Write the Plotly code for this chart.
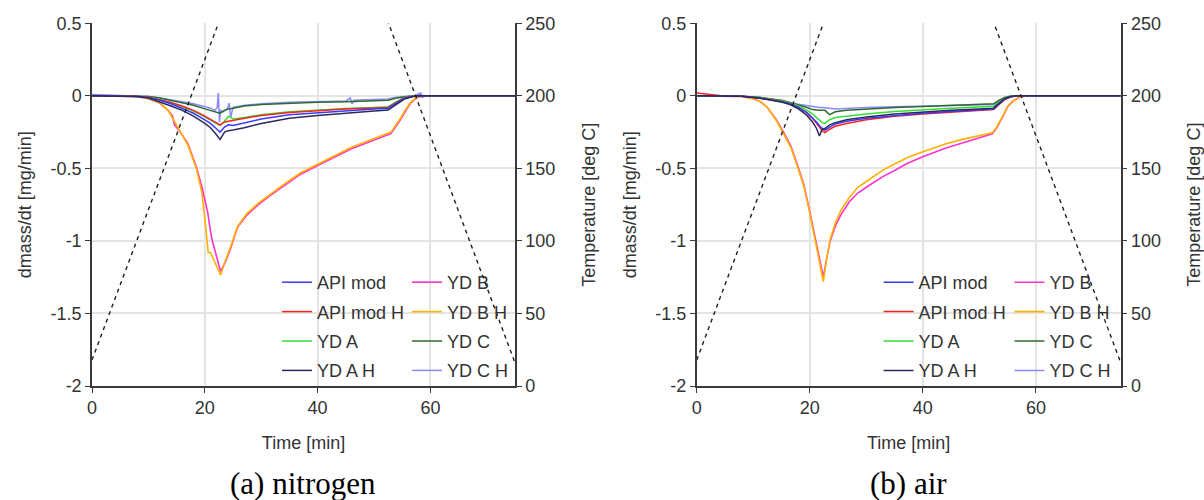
import plotly.graph_objects as go

# ---------------- data ----------------
series_names = ["API mod", "API mod H", "YD A", "YD A H", "YD B", "YD B H", "YD C", "YD C H"]
series_colors = {
    "API mod": "#3a3aff",
    "API mod H": "#ff2020",
    "YD A": "#33dd33",
    "YD A H": "#2a2a5e",
    "YD B": "#ff33cc",
    "YD B H": "#ffb000",
    "YD C": "#2e6b2e",
    "YD C H": "#8a8aff",
}

# furnace temperature programme (deg C) – same for both atmospheres
temp_time = [0, 22.9, 52.1, 75]
temp_value = [18, 255, 255, 16]

# ---- (a) nitrogen ----
t_small_a = [0, 4, 8, 10, 12, 14, 16, 18, 20, 21, 22, 22.7, 23.5, 24.2, 25,
             27, 30, 35, 40, 45, 50, 52.5, 54, 55.5, 57, 58, 60, 65, 70, 75]
api_mod_a = [0, 0, -0.005, -0.012, -0.03, -0.055, -0.085, -0.12, -0.165, -0.19,
             -0.225, -0.25, -0.215, -0.2, -0.205, -0.185, -0.16, -0.13, -0.115, -0.1,
             -0.09, -0.085, -0.05, -0.015, -0.003, 0, 0, 0, 0, 0]
api_mod_h_a = [0, 0, -0.003, -0.01, -0.025, -0.045, -0.07, -0.1, -0.14, -0.16,
               -0.185, -0.2, -0.18, -0.175, -0.17, -0.155, -0.135, -0.115, -0.1, -0.09,
               -0.083, -0.08, -0.045, -0.012, -0.002, 0, 0, 0, 0, 0]
yd_a_a = [0, 0, -0.003, -0.01, -0.025, -0.048, -0.075, -0.105, -0.145, -0.165,
          -0.19, -0.205, -0.175, -0.14, -0.16, -0.15, -0.13, -0.11, -0.097, -0.088,
          -0.08, -0.075, -0.04, -0.01, 0, 0, 0, 0, 0, 0]
yd_a_h_a = [0, 0, -0.005, -0.015, -0.04, -0.07, -0.1, -0.14, -0.19, -0.22,
            -0.265, -0.3, -0.25, -0.24, -0.235, -0.22, -0.19, -0.155, -0.135, -0.118,
            -0.105, -0.098, -0.06, -0.02, -0.005, 0, 0, 0, 0, 0]
yd_c_a = [0, 0, 0, -0.005, -0.015, -0.03, -0.045, -0.065, -0.09, -0.1,
          -0.11, -0.12, -0.1, -0.09, -0.085, -0.07, -0.06, -0.05, -0.045, -0.04,
          -0.035, -0.03, -0.015, -0.005, 0, 0, 0, 0, 0, 0]

t_yd_c_h_a = [0, 5, 8, 10, 12, 14, 16, 18, 20, 21, 21.8, 22.2, 22.4, 22.6, 22.8,
              23.2, 24, 24.3, 24.6, 25, 27, 30, 35, 40, 45, 45.8, 46.1, 46.4, 47, 50,
              52.5, 54, 55.5, 57, 58.3, 58.6, 59, 60, 65, 70, 75]
yd_c_h_a = [0.01, 0.005, 0, -0.005, -0.015, -0.025, -0.04, -0.055, -0.075, -0.085,
            -0.1, -0.08, 0.02, -0.18, -0.1, -0.11, -0.09, -0.05, -0.15, -0.08,
            -0.065, -0.055, -0.045, -0.04, -0.035, -0.015, -0.055, -0.03, -0.03, -0.025,
            -0.022, -0.01, -0.005, 0, 0.02, -0.01, 0, 0, 0, 0, 0]

t_yd_b_a = [0, 5, 8, 10, 12, 13.5, 14.3, 14.6, 15.5, 17, 18.5, 19.5, 20.5, 21.2, 22,
            22.8, 23.6, 24.5, 25.6, 25.9, 27.5, 29.5, 31.5, 34, 37, 40, 43, 46, 49, 51.5,
            53, 53.8, 54.6, 55.5, 56.5, 57.5, 58.5, 60, 65, 70, 75]
yd_b_a = [0, 0, -0.005, -0.02, -0.05, -0.1, -0.14, -0.2, -0.24, -0.33,
          -0.49, -0.63, -0.8, -0.98, -1.1, -1.21, -1.15, -1.06, -0.93, -0.9,
          -0.82, -0.75, -0.69, -0.62, -0.54, -0.48, -0.42, -0.365, -0.32, -0.28,
          -0.26, -0.215, -0.17, -0.11, -0.05, -0.015, -0.003, 0, 0, 0, 0]
t_yd_b_h_a = [0, 5, 8, 10, 12, 13.5, 14.5, 15.5, 17, 18.5, 19.5, 20.2, 20.6, 21.0, 22.0,
              22.8, 23.6, 24.5, 25.8, 27.5, 29.5, 31.5, 34, 37, 40, 43, 46, 49, 51.5, 53,
              53.8, 54.6, 55.5, 56.5, 57.5, 58.5, 60, 65, 70, 75]
yd_b_h_a = [0, 0, -0.005, -0.02, -0.05, -0.1, -0.17, -0.23, -0.34, -0.5,
            -0.67, -0.92, -1.08, -1.08, -1.17, -1.235, -1.14, -1.05, -0.9, -0.81,
            -0.74, -0.68, -0.61, -0.53, -0.47, -0.41, -0.355, -0.31, -0.275, -0.25,
            -0.205, -0.16, -0.1, -0.045, -0.012, -0.002, 0, 0, 0, 0]

# ---- (b) air ----
t_small_b = [0, 4, 8, 11, 13, 15, 16.5, 18, 19.5, 20.5, 21.2, 21.7, 22.2, 22.7, 23.5,
             24.5, 26.5, 30, 35, 40, 45, 50, 52.5, 53.5, 54.5, 55.5, 56.5, 58, 60, 65, 70, 75]
api_mod_b = [0, 0, -0.003, -0.015, -0.025, -0.04, -0.055, -0.08, -0.115, -0.15,
             -0.18, -0.205, -0.225, -0.236, -0.215, -0.195, -0.175, -0.155, -0.135, -0.12,
             -0.108, -0.097, -0.09, -0.055, -0.022, -0.007, -0.002, 0, 0, 0, 0, 0]
api_mod_h_b = [0.02, 0.002, -0.003, -0.015, -0.025, -0.04, -0.055, -0.08, -0.12, -0.155,
               -0.19, -0.215, -0.24, -0.254, -0.23, -0.21, -0.19, -0.165, -0.14, -0.125,
               -0.112, -0.1, -0.095, -0.06, -0.025, -0.008, -0.002, 0, 0, 0, 0, 0]
yd_a_b = [0, 0, -0.003, -0.012, -0.022, -0.035, -0.05, -0.07, -0.1, -0.125,
          -0.15, -0.17, -0.185, -0.19, -0.165, -0.15, -0.14, -0.125, -0.108, -0.095,
          -0.085, -0.077, -0.072, -0.045, -0.018, -0.005, 0, 0, 0, 0, 0, 0]
yd_a_h_b = [0, 0, -0.003, -0.015, -0.027, -0.042, -0.06, -0.09, -0.135, -0.18,
            -0.225, -0.277, -0.23, -0.225, -0.2, -0.185, -0.165, -0.145, -0.125, -0.11,
            -0.1, -0.09, -0.085, -0.05, -0.02, -0.005, 0, 0, 0, 0, 0, 0]
yd_c_b = [0, 0, -0.002, -0.01, -0.02, -0.03, -0.045, -0.06, -0.08, -0.095,
          -0.1, -0.1, -0.1, -0.1, -0.13, -0.11, -0.1, -0.09, -0.08, -0.073,
          -0.065, -0.058, -0.055, -0.03, -0.012, -0.003, 0, 0, 0, 0, 0, 0]
yd_c_h_b = [0, 0, -0.002, -0.01, -0.02, -0.035, -0.05, -0.06, -0.07, -0.075,
            -0.08, -0.08, -0.08, -0.08, -0.085, -0.09, -0.085, -0.08, -0.075, -0.07,
            -0.068, -0.065, -0.06, -0.035, -0.012, -0.003, 0, 0, 0, 0, 0, 0]

t_yd_b_b = [0, 5, 8, 10, 11.3, 12.5, 14, 15.5, 16.7, 18.1, 19, 19.8, 20.8, 21.6, 22.4,
            23, 23.6, 24.5, 25.5, 27, 28.5, 30.4, 33, 35, 37.3, 40, 42, 44.1, 47, 50,
            52.3, 53, 53.7, 54.4, 55, 56, 57.1, 58, 60, 65, 70, 75]
yd_b_b = [0, 0, -0.005, -0.02, -0.04, -0.08, -0.16, -0.26, -0.35, -0.51,
          -0.62, -0.76, -0.95, -1.1, -1.25, -1.12, -1.0, -0.9, -0.82, -0.73,
          -0.67, -0.62, -0.555, -0.515, -0.465, -0.42, -0.39, -0.36, -0.325, -0.29,
          -0.262, -0.225, -0.18, -0.125, -0.075, -0.035, -0.01, -0.002, 0, 0, 0, 0]
yd_b_h_b = [0, 0, -0.005, -0.02, -0.04, -0.08, -0.165, -0.27, -0.36, -0.52,
            -0.63, -0.77, -0.96, -1.12, -1.28, -1.12, -0.99, -0.88, -0.79, -0.7,
            -0.63, -0.58, -0.51, -0.47, -0.425, -0.385, -0.36, -0.33, -0.3, -0.275,
            -0.255, -0.22, -0.175, -0.12, -0.072, -0.033, -0.01, -0.002, 0, 0, 0, 0]

# axis tick labels
x_ticks = [0, 20, 40, 60]
x_tick_text = ["0", "20", "40", "60"]
y_ticks = [0.5, 0, -0.5, -1, -1.5, -2]
y_tick_text = ["0.5", "0", "-0.5", "-1", "-1.5", "-2"]
temp_ticks = [0, 50, 100, 150, 200, 250]
temp_tick_text = ["0", "50", "100", "150", "200", "250"]

panel_a = {
    "API mod": (t_small_a, api_mod_a),
    "API mod H": (t_small_a, api_mod_h_a),
    "YD A": (t_small_a, yd_a_a),
    "YD A H": (t_small_a, yd_a_h_a),
    "YD B": (t_yd_b_a, yd_b_a),
    "YD B H": (t_yd_b_h_a, yd_b_h_a),
    "YD C": (t_small_a, yd_c_a),
    "YD C H": (t_yd_c_h_a, yd_c_h_a),
}
panel_b = {
    "API mod": (t_small_b, api_mod_b),
    "API mod H": (t_small_b, api_mod_h_b),
    "YD A": (t_small_b, yd_a_b),
    "YD A H": (t_small_b, yd_a_h_b),
    "YD B": (t_yd_b_b, yd_b_b),
    "YD B H": (t_yd_b_b, yd_b_h_b),
    "YD C": (t_small_b, yd_c_b),
    "YD C H": (t_small_b, yd_c_h_b),
}

# ---------------- figure ----------------
W, H = 1204, 500
FONT = "Liberation Sans, Arial, sans-serif"
TXT = "#333333"
GRID = "#e4e4e4"
AX = "#3a3a3a"
FS = 18

# draw order: wide B curves first, small curves on top
draw_order = ["YD B", "YD B H", "YD C H", "YD C", "YD A", "API mod H", "API mod", "YD A H"]
widths = {"YD B": 1.6, "YD B H": 1.6}

fig = go.Figure()


def add_panel(data, tag, xa, ya, ya_t, leg1, leg2):
    for name in draw_order:
        t, v = data[name]
        idx = series_names.index(name)
        fig.add_trace(go.Scatter(
            x=t, y=v, mode="lines", name=name,
            line=dict(color=series_colors[name], width=widths.get(name, 1.5)),
            xaxis=xa, yaxis=ya, legend=leg1 if idx < 4 else leg2,
            legendgroup=f"{tag}{idx}", legendrank=idx,
        ))
    fig.add_trace(go.Scatter(
        x=temp_time, y=temp_value, mode="lines", showlegend=False,
        line=dict(color="#202020", width=1.4, dash="4px,4px"),
        xaxis=xa, yaxis=ya_t,
    ))


add_panel(panel_a, "a", "x", "y", "y2", "legend", "legend2")
add_panel(panel_b, "b", "x2", "y3", "y4", "legend3", "legend4")

ydom = [1 - 386 / H, 1 - 23.3 / H]
xdom_a = [92 / W, 515 / W]
xdom_b = [696.7 / W, 1120.7 / W]

tickfont = dict(family=FONT, size=FS, color=TXT)
titlefont = dict(family=FONT, size=FS, color=TXT)


def xaxis_cfg(dom, anchor):
    return dict(domain=dom, anchor=anchor, range=[0, 75], tickvals=x_ticks, ticktext=x_tick_text,
                showgrid=True, gridcolor=GRID, gridwidth=1.5, zeroline=False, automargin=False,
                showline=True, linecolor=AX, linewidth=1.5, ticks="outside", ticklen=5,
                tickcolor=AX, tickfont=tickfont,
                title=dict(text="Time [min]", font=titlefont, standoff=19))


def yaxis_cfg(anchor):
    return dict(domain=ydom, anchor=anchor, range=[-2, 0.5], tickvals=y_ticks, ticktext=y_tick_text,
                showgrid=True, gridcolor=GRID, gridwidth=1.5, zeroline=False, automargin=False,
                showline=True, linecolor=AX, linewidth=1.5, ticks="outside", ticklen=5,
                tickcolor=AX, tickfont=tickfont,
                title=dict(text="dmass/dt [mg/min]", font=titlefont, standoff=14))


def taxis_cfg(anchor, over):
    return dict(domain=ydom, anchor=anchor, overlaying=over, side="right", range=[0, 250],
                tickvals=temp_ticks, ticktext=temp_tick_text, showgrid=False, zeroline=False,
                automargin=False,
                showline=True, linecolor=AX, linewidth=1.5, ticks="outside", ticklen=5,
                tickcolor=AX, tickfont=tickfont,
                title=dict(text="Temperature [deg C]", font=titlefont, standoff=28))


legend_common = dict(bgcolor="rgba(0,0,0,0)", borderwidth=0, xanchor="left", yanchor="top",
                     font=dict(family=FONT, size=FS, color=TXT), tracegroupgap=3,
                     itemwidth=30, traceorder="grouped")
leg_top = 1 - 264 / H

fig.update_layout(
    width=W, height=H, margin=dict(l=0, r=0, t=0, b=0, autoexpand=False),
    paper_bgcolor="white", plot_bgcolor="white",
    xaxis=xaxis_cfg(xdom_a, "y"),
    yaxis=yaxis_cfg("x"),
    yaxis2=taxis_cfg("x", "y"),
    xaxis2=xaxis_cfg(xdom_b, "y3"),
    yaxis3=yaxis_cfg("x2"),
    yaxis4=taxis_cfg("x2", "y3"),
    legend=dict(legend_common, x=277 / W, y=leg_top),
    legend2=dict(legend_common, x=407 / W, y=leg_top),
    legend3=dict(legend_common, x=878.6 / W, y=leg_top),
    legend4=dict(legend_common, x=1009.5 / W, y=leg_top),
    showlegend=True,
)

caption_font = dict(family="Liberation Serif, Times New Roman, serif", size=31, color="#000000")
fig.add_annotation(text="(a) nitrogen", x=303 / W, y=1 - 483 / H, xref="paper", yref="paper",
                   showarrow=False, font=caption_font, xanchor="center", yanchor="middle")
fig.add_annotation(text="(b) air", x=908 / W, y=1 - 483 / H, xref="paper", yref="paper",
                   showarrow=False, font=caption_font, xanchor="center", yanchor="middle")

fig.write_html("out.html")
